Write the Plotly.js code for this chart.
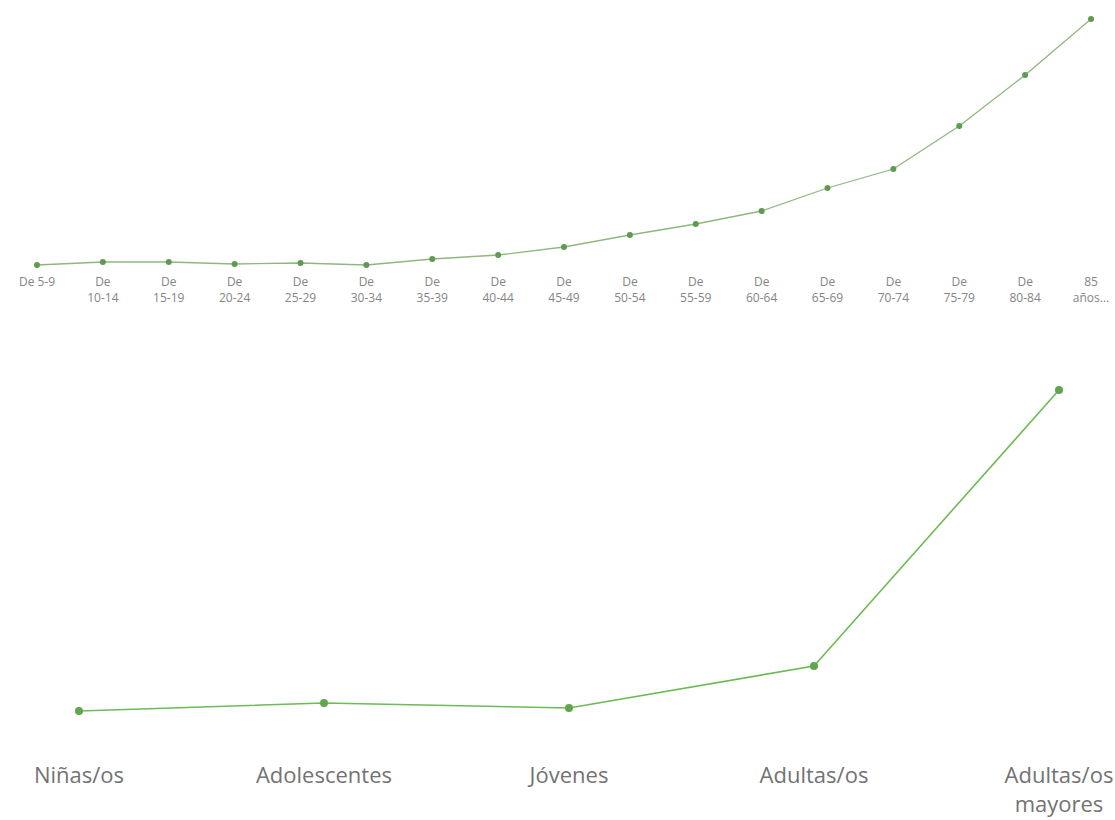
<!DOCTYPE html>
<html>
<head>
<meta charset="utf-8">
<script src="https://cdn.plot.ly/plotly-3.0.1.min.js"></script>
<style>
  html, body { margin: 0; padding: 0; background: #ffffff; }
  #chart { width: 1115px; height: 820px; }
</style>
</head>
<body>
<div id="chart"></div>
<script>
// Top chart: age groups (5-year bands)
const ageGroups = [
  "De 5-9", "De<br>10-14", "De<br>15-19", "De<br>20-24", "De<br>25-29",
  "De<br>30-34", "De<br>35-39", "De<br>40-44", "De<br>45-49", "De<br>50-54",
  "De<br>55-59", "De<br>60-64", "De<br>65-69", "De<br>70-74", "De<br>75-79",
  "De<br>80-84", "85<br>años..."
];
const ageValues = [15, 18, 18, 16, 17, 15, 21, 25, 33, 45, 56, 69, 92, 111, 154, 205, 261];

// Bottom chart: life stages
const stageGroups = ["Niñas/os", "Adolescentes", "Jóvenes", "Adultas/os", "Adultas/os<br>mayores"];
const stageValues = [19, 27, 22, 64, 340];

const fontFamily = "'Open Sans', 'Noto Sans', sans-serif";

const traces = [
  {
    x: ageGroups, y: ageValues, xaxis: 'x', yaxis: 'y',
    type: 'scatter', mode: 'lines+markers',
    line: { color: '#8db87f', width: 1.3 },
    marker: { color: '#5f9a52', size: 6 },
    hoverinfo: 'skip', showlegend: false
  },
  {
    x: stageGroups, y: stageValues, xaxis: 'x2', yaxis: 'y2',
    type: 'scatter', mode: 'lines+markers',
    line: { color: '#6dbb55', width: 1.6 },
    marker: { color: '#5fa64c', size: 8 },
    hoverinfo: 'skip', showlegend: false
  }
];

const layout = {
  width: 1115, height: 820,
  margin: { l: 0, r: 0, t: 0, b: 0 },
  paper_bgcolor: '#ffffff', plot_bgcolor: '#ffffff',
  font: { family: fontFamily, color: '#777777' },
  showlegend: false,
  xaxis: {
    type: 'category', anchor: 'y',
    range: [-0.5617, 16.364],
    tickmode: 'array', tickvals: ageGroups, ticktext: ageGroups,
    tickangle: 0, ticks: '', showline: false, showgrid: false, zeroline: false,
    tickfont: { size: 12, color: '#858585', family: fontFamily },
    automargin: false
  },
  yaxis: {
    anchor: 'x', domain: [1 - 273 / 820, 1.0], range: [7, 280],
    visible: false, showgrid: false, zeroline: false
  },
  xaxis2: {
    type: 'category', anchor: 'y2',
    range: [-0.3224, 4.2286],
    tickmode: 'array', tickvals: stageGroups, ticktext: stageGroups,
    tickangle: 0, ticks: '', showline: false, showgrid: false, zeroline: false,
    tickfont: { size: 22, color: '#737373', family: fontFamily },
    automargin: false
  },
  yaxis2: {
    anchor: 'x2', domain: [(820 - 760) / 820, (820 - 380) / 820], range: [-30, 350],
    visible: false, showgrid: false, zeroline: false
  }
};

Plotly.newPlot('chart', traces, layout, { displayModeBar: false, staticPlot: true });
</script>
</body>
</html>
